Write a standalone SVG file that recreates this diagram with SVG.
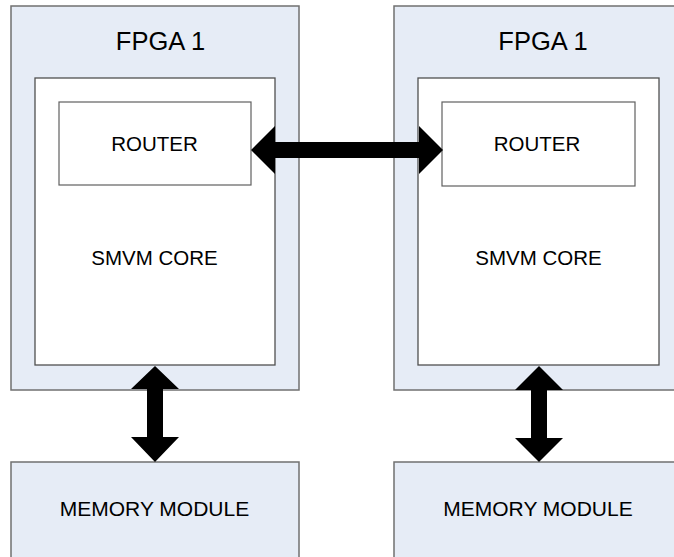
<svg xmlns="http://www.w3.org/2000/svg" width="674" height="557" viewBox="0 0 674 557">
<style>
.fpga{fill:#e6ecf6;stroke:#707070;stroke-width:1.5}
.core{fill:#ffffff;stroke:#505050;stroke-width:1.3}
.router{fill:#ffffff;stroke:#606060;stroke-width:1.2}
.mem{fill:#e6ecf6;stroke:#707070;stroke-width:1.5}
.t{font-family:"Liberation Sans",Arial,sans-serif;fill:#000;text-anchor:middle}
.big{font-size:25.5px}
.mid{font-size:20.5px}
.arr{fill:#000}
</style>
<rect width="674" height="557" fill="#ffffff"/>
<g id="fpga-left">
<rect class="fpga" x="11" y="6" width="288" height="384"/>
<text class="t big" x="160.5" y="50">FPGA 1</text>
</g>
<g id="core-left">
<rect class="core" x="35" y="78" width="240" height="287"/>
<text class="t mid" x="154.5" y="265">SMVM CORE</text>
</g>
<g id="router-left">
<rect class="router" x="59" y="102" width="192" height="83"/>
<text class="t mid" x="154.5" y="151">ROUTER</text>
</g>
<g id="fpga-right">
<rect class="fpga" x="394" y="6" width="290" height="384"/>
<text class="t big" x="543" y="50">FPGA 1</text>
</g>
<g id="core-right">
<rect class="core" x="418" y="78" width="241" height="287"/>
<text class="t mid" x="538.5" y="265">SMVM CORE</text>
</g>
<g id="router-right">
<rect class="router" x="442" y="102" width="193" height="84"/>
<text class="t mid" x="537" y="151">ROUTER</text>
</g>
<g id="memory-left">
<rect class="mem" x="11" y="462" width="288" height="100"/>
<text class="t mid" x="154.5" y="516" style="font-size:21px">MEMORY MODULE</text>
</g>
<g id="memory-right">
<rect class="mem" x="394" y="462" width="290" height="100"/>
<text class="t mid" x="538" y="516" style="font-size:21px">MEMORY MODULE</text>
</g>
<g id="connectors">
<polygon class="arr" points="251,150 275,126 275,142 419,142 419,126 443,150 419,174 419,158 275,158 275,174"/>
<polygon class="arr" points="155,366 179,389 163,389 163,437 179,437 155,462 131,437 147,437 147,389 131,389"/>
<polygon class="arr" points="539,366 563,390 547,390 547,438 563,438 539,462 515,438 531,438 531,390 515,390"/>
</g>
</svg>
